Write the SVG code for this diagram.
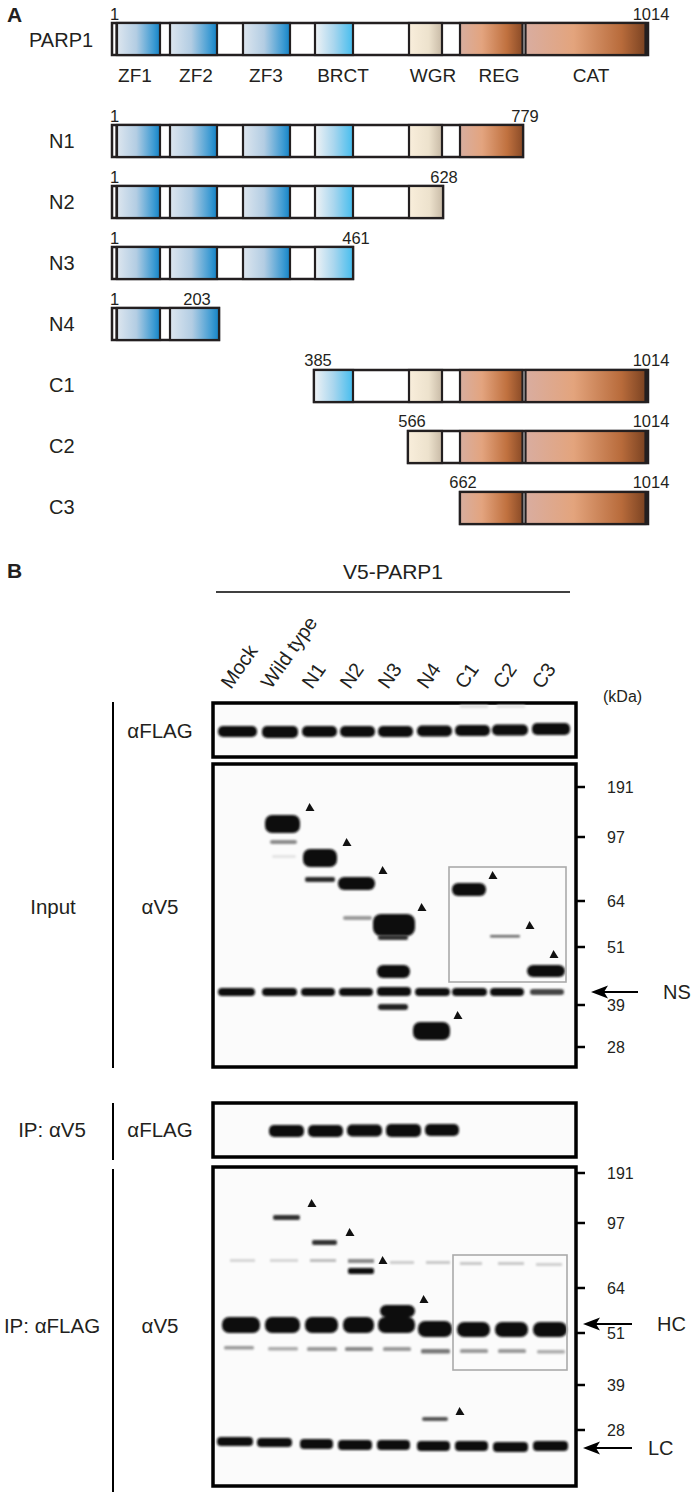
<svg xmlns="http://www.w3.org/2000/svg" width="693" height="1492" viewBox="0 0 693 1492">
<defs>
<linearGradient id="gZF" x1="0" x2="1" y1="0" y2="0"><stop offset="0" stop-color="#dde6ef"/><stop offset="0.45" stop-color="#b3cde3"/><stop offset="0.85" stop-color="#3e9bd3"/><stop offset="1" stop-color="#1483c6"/></linearGradient>
<linearGradient id="gBR" x1="0" x2="1" y1="0" y2="0"><stop offset="0" stop-color="#f0f3f6"/><stop offset="0.5" stop-color="#a9d6ee"/><stop offset="1" stop-color="#45bdee"/></linearGradient>
<linearGradient id="gWG" x1="0" x2="1" y1="0" y2="0"><stop offset="0" stop-color="#f9eedb"/><stop offset="0.6" stop-color="#ede2cd"/><stop offset="1" stop-color="#c8baa6"/></linearGradient>
<linearGradient id="gRE" x1="0" x2="1" y1="0" y2="0"><stop offset="0" stop-color="#d8ae9f"/><stop offset="0.35" stop-color="#e3a47f"/><stop offset="0.75" stop-color="#c0713f"/><stop offset="1" stop-color="#8a4b27"/></linearGradient>
<linearGradient id="gCA" x1="0" x2="1" y1="0" y2="0"><stop offset="0" stop-color="#d9ada0"/><stop offset="0.4" stop-color="#e3a47d"/><stop offset="0.8" stop-color="#b86b3b"/><stop offset="1" stop-color="#7b4322"/></linearGradient>
<filter id="bl" x="-30%" y="-150%" width="160%" height="400%"><feGaussianBlur stdDeviation="1.3"/></filter>
<filter id="bl2" x="-30%" y="-150%" width="160%" height="400%"><feGaussianBlur stdDeviation="0.8"/></filter>
<path id="tri" d="M-4.5,4 L4.5,4 L-0.5,-4 Z"/>
<path id="arr" d="M0,0 L17,-6.5 L13,0 L17,6.5 Z"/>
</defs>
<style>
text{font-family:"Liberation Sans",Arial,sans-serif;fill:#231f20}
.bar{fill:#fff;stroke:#231f20;stroke-width:2.5}
.d{stroke:#231f20;stroke-width:2.2}
.zf{fill:url(#gZF)}
.br{fill:url(#gBR)}
.wg{fill:url(#gWG)}
.re{fill:url(#gRE)}
.ca{fill:url(#gCA)}
.cap{fill:#231f20}
.nt{stroke:#231f20;stroke-width:1.2}
.num{font-size:16.5px}
.dom{font-size:19px}
.row{font-size:20px}
.lane{font-size:20px}
.lbl{font-size:20.5px}
.mk{font-size:16px}
.box{fill:#fbfbfb;stroke:#000;stroke-width:3.5}
.bd{fill:#0d0d0d;filter:url(#bl)}
.bt{filter:url(#bl2)}
.tick{stroke:#000;stroke-width:2.5}
.vl{stroke:#000;stroke-width:2}
.gb{fill:none;stroke:#aaa;stroke-width:1.6}
</style>

<!-- Panel A -->
<text x="7" y="22" font-size="21" font-weight="bold">A</text>

<g id="PARP1">
<text class="row" x="29" y="47">PARP1</text>
<text class="num" x="110" y="20">1</text>
<text class="num" x="651" y="20" text-anchor="middle">1014</text>
<rect class="bar" x="112" y="23" width="536" height="32"/>
<line class="nt" x1="116" y1="23" x2="116" y2="55"/>
<rect class="d zf" x="117" y="23" width="43" height="32"/>
<rect class="d zf" x="170" y="23" width="47" height="32"/>
<rect class="d zf" x="243" y="23" width="47" height="32"/>
<rect class="d br" x="315" y="23" width="38" height="32"/>
<rect class="d wg" x="409" y="23" width="33" height="32"/>
<rect class="d re" x="460" y="23" width="62.5" height="32"/>
<rect class="d ca" x="525.5" y="23" width="120" height="32"/>
<rect class="cap" x="645" y="22" width="4" height="34"/>
<text class="dom" x="135" y="82" text-anchor="middle">ZF1</text>
<text class="dom" x="196" y="82" text-anchor="middle">ZF2</text>
<text class="dom" x="266" y="82" text-anchor="middle">ZF3</text>
<text class="dom" x="343" y="82" text-anchor="middle">BRCT</text>
<text class="dom" x="433" y="82" text-anchor="middle">WGR</text>
<text class="dom" x="499" y="82" text-anchor="middle">REG</text>
<text class="dom" x="591" y="82" text-anchor="middle">CAT</text>
</g>

<g id="N1">
<text class="row" x="49" y="148">N1</text>
<text class="num" x="110" y="122">1</text>
<text class="num" x="525" y="122" text-anchor="middle">779</text>
<rect class="bar" x="112" y="125" width="411" height="32"/>
<line class="nt" x1="116" y1="125" x2="116" y2="157"/>
<rect class="d zf" x="117" y="125" width="43" height="32"/>
<rect class="d zf" x="170" y="125" width="47" height="32"/>
<rect class="d zf" x="243" y="125" width="47" height="32"/>
<rect class="d br" x="315" y="125" width="38" height="32"/>
<rect class="d wg" x="409" y="125" width="33" height="32"/>
<rect class="d re" x="460" y="125" width="63" height="32"/>
</g>

<g id="N2">
<text class="row" x="49" y="209">N2</text>
<text class="num" x="110" y="183">1</text>
<text class="num" x="444" y="183" text-anchor="middle">628</text>
<rect class="bar" x="112" y="186" width="331" height="32"/>
<line class="nt" x1="116" y1="186" x2="116" y2="218"/>
<rect class="d zf" x="117" y="186" width="43" height="32"/>
<rect class="d zf" x="170" y="186" width="47" height="32"/>
<rect class="d zf" x="243" y="186" width="47" height="32"/>
<rect class="d br" x="315" y="186" width="38" height="32"/>
<rect class="d wg" x="409" y="186" width="34" height="32"/>
</g>

<g id="N3">
<text class="row" x="49" y="270">N3</text>
<text class="num" x="110" y="244">1</text>
<text class="num" x="356" y="244" text-anchor="middle">461</text>
<rect class="bar" x="112" y="247" width="241" height="32"/>
<line class="nt" x1="116" y1="247" x2="116" y2="279"/>
<rect class="d zf" x="117" y="247" width="43" height="32"/>
<rect class="d zf" x="170" y="247" width="47" height="32"/>
<rect class="d zf" x="243" y="247" width="47" height="32"/>
<rect class="d br" x="315" y="247" width="38" height="32"/>
</g>

<g id="N4">
<text class="row" x="49" y="331">N4</text>
<text class="num" x="110" y="305">1</text>
<text class="num" x="197" y="305" text-anchor="middle">203</text>
<rect class="bar" x="112" y="308" width="107" height="32"/>
<line class="nt" x1="116" y1="308" x2="116" y2="340"/>
<rect class="d zf" x="117" y="308" width="43" height="32"/>
<rect class="d zf" x="170" y="308" width="49" height="32"/>
</g>

<g id="C1">
<text class="row" x="49" y="392">C1</text>
<text class="num" x="318" y="366" text-anchor="middle">385</text>
<text class="num" x="651" y="366" text-anchor="middle">1014</text>
<rect class="bar" x="314" y="370" width="334" height="32"/>
<rect class="d br" x="314" y="370" width="39" height="32"/>
<rect class="d wg" x="409" y="370" width="33" height="32"/>
<rect class="d re" x="460" y="370" width="62.5" height="32"/>
<rect class="d ca" x="525.5" y="370" width="120" height="32"/>
<rect class="cap" x="645" y="369" width="4" height="34"/>
</g>

<g id="C2">
<text class="row" x="49" y="453">C2</text>
<text class="num" x="412" y="427" text-anchor="middle">566</text>
<text class="num" x="651" y="427" text-anchor="middle">1014</text>
<rect class="bar" x="408" y="431" width="240" height="32"/>
<rect class="d wg" x="408" y="431" width="34" height="32"/>
<rect class="d re" x="460" y="431" width="62.5" height="32"/>
<rect class="d ca" x="525.5" y="431" width="120" height="32"/>
<rect class="cap" x="645" y="430" width="4" height="34"/>
</g>

<g id="C3">
<text class="row" x="49" y="514">C3</text>
<text class="num" x="463" y="488" text-anchor="middle">662</text>
<text class="num" x="651" y="488" text-anchor="middle">1014</text>
<rect class="bar" x="460" y="492" width="188" height="32"/>
<rect class="d re" x="460" y="492" width="62.5" height="32"/>
<rect class="d ca" x="525.5" y="492" width="120" height="32"/>
<rect class="cap" x="645" y="491" width="4" height="34"/>
</g>

<!-- Panel B -->
<text x="7" y="578" font-size="21" font-weight="bold">B</text>

<g id="header">
<text x="393" y="579" font-size="21" text-anchor="middle">V5-PARP1</text>
<line x1="216" y1="592" x2="570" y2="592" stroke="#000" stroke-width="1.5"/>
<g class="lane">
<text transform="translate(231,690) rotate(-55)">Mock</text>
<text transform="translate(271,690) rotate(-55)">Wild type</text>
<text transform="translate(312,690) rotate(-55)">N1</text>
<text transform="translate(350,690) rotate(-55)">N2</text>
<text transform="translate(388,690) rotate(-55)">N3</text>
<text transform="translate(427,690) rotate(-55)">N4</text>
<text transform="translate(465,690) rotate(-55)">C1</text>
<text transform="translate(503,690) rotate(-55)">C2</text>
<text transform="translate(542,690) rotate(-55)">C3</text>
</g>
<text class="mk" x="603" y="702" font-size="17">(kDa)</text>
</g>

<g id="side-labels">
<line class="vl" x1="113" y1="702" x2="113" y2="1068"/>
<line class="vl" x1="113" y1="1103" x2="113" y2="1160"/>
<line class="vl" x1="113" y1="1169" x2="113" y2="1492"/>
<text class="lbl" x="53" y="914" text-anchor="middle">Input</text>
<text class="lbl" x="160" y="738" text-anchor="middle">αFLAG</text>
<text class="lbl" x="160" y="914" text-anchor="middle">αV5</text>
<text class="lbl" x="52" y="1137" text-anchor="middle">IP: αV5</text>
<text class="lbl" x="160" y="1137" text-anchor="middle">αFLAG</text>
<text class="lbl" x="52" y="1333" text-anchor="middle">IP: αFLAG</text>
<text class="lbl" x="160" y="1333" text-anchor="middle">αV5</text>
</g>

<g id="blot-input-flag">
<rect class="box" x="213" y="703" width="363" height="54"/>
<g class="bd">
<rect x="218" y="726" width="39" height="11" rx="5"/>
<rect x="262" y="726" width="36" height="12" rx="5"/>
<rect x="302" y="726" width="35" height="11" rx="5"/>
<rect x="340" y="726" width="35" height="11" rx="5"/>
<rect x="378" y="726" width="35" height="11" rx="5"/>
<rect x="417" y="725.5" width="35" height="11" rx="5"/>
<rect x="455" y="725" width="35" height="11" rx="5"/>
<rect x="492" y="724.5" width="36" height="11" rx="5"/>
<rect x="532" y="723" width="38" height="12" rx="5"/>
</g>
<rect x="460" y="705" width="28" height="3" fill="#ddd" class="bt"/>
<rect x="497" y="705" width="28" height="3" fill="#e2e2e2" class="bt"/>
</g>

<g id="blot-input-v5">
<rect class="box" x="213" y="764" width="363" height="303"/>
<g class="bd">
<rect x="265" y="815" width="35" height="18" rx="7"/>
<rect x="303" y="849" width="34" height="18" rx="7"/>
<rect x="338" y="877" width="37" height="13" rx="6"/>
<rect x="373" y="914" width="42" height="22" rx="8"/>
<rect x="377" y="965" width="33" height="13" rx="6"/>
<rect x="413" y="1022" width="37" height="18" rx="7"/>
<rect x="452" y="883" width="34" height="13" rx="6"/>
<rect x="527" y="965" width="38" height="12" rx="6"/>
<rect x="218" y="988" width="37" height="8" rx="4"/>
<rect x="262" y="988" width="35" height="8" rx="4"/>
<rect x="301" y="988" width="34" height="8" rx="4"/>
<rect x="339" y="988" width="34" height="8" rx="4"/>
<rect x="377" y="987" width="34" height="9" rx="4"/>
<rect x="415" y="988" width="35" height="8" rx="4"/>
<rect x="452" y="988" width="35" height="8" rx="4"/>
<rect x="490" y="988" width="34" height="8" rx="4"/>
</g>
<g class="bt">
<rect x="270" y="840" width="27" height="4" rx="2" fill="#8a8a8a"/>
<rect x="272" y="855" width="24" height="3" rx="1.5" fill="#e4e4e4"/>
<rect x="305" y="877" width="30" height="5" rx="2" fill="#2a2a2a"/>
<rect x="343" y="916" width="29" height="4" rx="2" fill="#999"/>
<rect x="378" y="935" width="30" height="5" rx="2" fill="#333"/>
<rect x="378" y="1004" width="30" height="6" rx="3" fill="#222"/>
<rect x="490" y="935" width="30" height="2.5" rx="1" fill="#666"/>
<rect x="530" y="989" width="34" height="6" rx="3" fill="#444"/>
</g>
<rect class="gb" x="449" y="867" width="117" height="115"/>
<g fill="#111">
<use href="#tri" x="310" y="807"/>
<use href="#tri" x="347" y="842"/>
<use href="#tri" x="383" y="870"/>
<use href="#tri" x="422" y="907"/>
<use href="#tri" x="458" y="1015"/>
<use href="#tri" x="493" y="875"/>
<use href="#tri" x="530" y="925"/>
<use href="#tri" x="554" y="954"/>
</g>
<g class="tick">
<line x1="577" y1="787" x2="585" y2="787"/>
<line x1="577" y1="837" x2="585" y2="837"/>
<line x1="577" y1="901" x2="585" y2="901"/>
<line x1="577" y1="947" x2="585" y2="947"/>
<line x1="577" y1="1005" x2="585" y2="1005"/>
<line x1="577" y1="1047" x2="585" y2="1047"/>
</g>
<g class="mk">
<text x="607" y="793">191</text>
<text x="607" y="843">97</text>
<text x="607" y="907">64</text>
<text x="607" y="953">51</text>
<text x="607" y="1011">39</text>
<text x="607" y="1053">28</text>
</g>
</g>

<g id="blot-ip-flag">
<rect class="box" x="213" y="1103" width="363" height="54"/>
<g class="bd">
<rect x="269" y="1125" width="35" height="12" rx="5"/>
<rect x="308" y="1125" width="35" height="12" rx="5"/>
<rect x="347" y="1124.5" width="35" height="12" rx="5"/>
<rect x="386" y="1124" width="35" height="13" rx="5"/>
<rect x="425" y="1124" width="34" height="12" rx="5"/>
</g>
</g>

<g id="blot-ip-v5">
<rect class="box" x="213" y="1167" width="363" height="319"/>
<g class="bt">
<rect x="230" y="1259" width="25" height="3" fill="#d5d5d5"/>
<rect x="270" y="1259" width="28" height="3" fill="#d5d5d5"/>
<rect x="310" y="1259" width="26" height="3" fill="#bbb"/>
<rect x="348" y="1259" width="26" height="4" fill="#888"/>
<rect x="390" y="1261" width="24" height="3" fill="#ccc"/>
<rect x="426" y="1261" width="24" height="3" fill="#c8c8c8"/>
<rect x="460" y="1262" width="22" height="3" fill="#c8c8c8"/>
<rect x="498" y="1262" width="26" height="3" fill="#c8c8c8"/>
<rect x="536" y="1263" width="26" height="3" fill="#cfcfcf"/>
<rect x="273" y="1215" width="27" height="5" rx="2" fill="#333"/>
<rect x="312" y="1240" width="25" height="5" rx="2" fill="#333"/>
<rect x="348" y="1268" width="26" height="6" rx="2" fill="#111"/>
<rect x="422" y="1417" width="26" height="4" rx="2" fill="#555"/>
<rect x="224" y="1346" width="30" height="3.5" rx="1.5" fill="#999"/>
<rect x="268" y="1347" width="30" height="3.5" rx="1.5" fill="#aaa"/>
<rect x="307" y="1347" width="30" height="4" rx="1.5" fill="#999"/>
<rect x="345" y="1347" width="28" height="4" rx="1.5" fill="#888"/>
<rect x="383" y="1347" width="28" height="4" rx="1.5" fill="#999"/>
<rect x="421" y="1349" width="29" height="4.5" rx="1.5" fill="#777"/>
<rect x="460" y="1349" width="28" height="4" rx="1.5" fill="#999"/>
<rect x="498" y="1349" width="28" height="4" rx="1.5" fill="#999"/>
<rect x="537" y="1350" width="28" height="3.5" rx="1.5" fill="#aaa"/>
</g>
<g class="bd">
<rect x="380" y="1305" width="35" height="12" rx="6"/>
<rect x="222" y="1317" width="38" height="16" rx="7"/>
<rect x="265" y="1317" width="35" height="16" rx="7"/>
<rect x="305" y="1317" width="33" height="16" rx="7"/>
<rect x="343" y="1317" width="31" height="16" rx="7"/>
<rect x="378" y="1317" width="37" height="16" rx="7"/>
<rect x="418" y="1321" width="34" height="16" rx="7"/>
<rect x="457" y="1322" width="33" height="15" rx="7"/>
<rect x="495" y="1322" width="33" height="15" rx="7"/>
<rect x="533" y="1322" width="34" height="15" rx="7"/>
<rect x="217" y="1437" width="36" height="9" rx="4"/>
<rect x="257" y="1438" width="35" height="9" rx="4"/>
<rect x="300" y="1439" width="33" height="10" rx="4"/>
<rect x="338" y="1440" width="34" height="10" rx="4"/>
<rect x="377" y="1440" width="33" height="10" rx="4"/>
<rect x="417" y="1441" width="33" height="10" rx="4"/>
<rect x="455" y="1441" width="33" height="10" rx="4"/>
<rect x="493" y="1442" width="35" height="10" rx="4"/>
<rect x="533" y="1441" width="35" height="10" rx="4"/>
</g>
<rect class="gb" x="453" y="1255" width="114" height="115"/>
<g fill="#111">
<use href="#tri" x="312" y="1203"/>
<use href="#tri" x="350" y="1232"/>
<use href="#tri" x="383" y="1260"/>
<use href="#tri" x="424" y="1299"/>
<use href="#tri" x="460" y="1411"/>
</g>
<g class="tick">
<line x1="577" y1="1173" x2="585" y2="1173"/>
<line x1="577" y1="1223" x2="585" y2="1223"/>
<line x1="577" y1="1288" x2="585" y2="1288"/>
<line x1="577" y1="1333" x2="585" y2="1333"/>
<line x1="577" y1="1385" x2="585" y2="1385"/>
<line x1="577" y1="1430" x2="585" y2="1430"/>
</g>
<g class="mk">
<text x="607" y="1179">191</text>
<text x="607" y="1229">97</text>
<text x="607" y="1294">64</text>
<text x="607" y="1339">51</text>
<text x="607" y="1391">39</text>
<text x="607" y="1436">28</text>
</g>
</g>

<g id="connectors">
<line x1="604" y1="992" x2="638" y2="992" stroke="#000" stroke-width="1.8"/>
<use href="#arr" x="591" y="992" fill="#000"/>
<line x1="596" y1="1324" x2="632" y2="1324" stroke="#000" stroke-width="1.8"/>
<use href="#arr" x="583" y="1324" fill="#000"/>
<line x1="596" y1="1448" x2="632" y2="1448" stroke="#000" stroke-width="1.8"/>
<use href="#arr" x="583" y="1448" fill="#000"/>
</g>
<text class="row" x="663" y="999">NS</text>
<text class="row" x="657" y="1331">HC</text>
<text class="row" x="648" y="1455">LC</text>
</svg>
